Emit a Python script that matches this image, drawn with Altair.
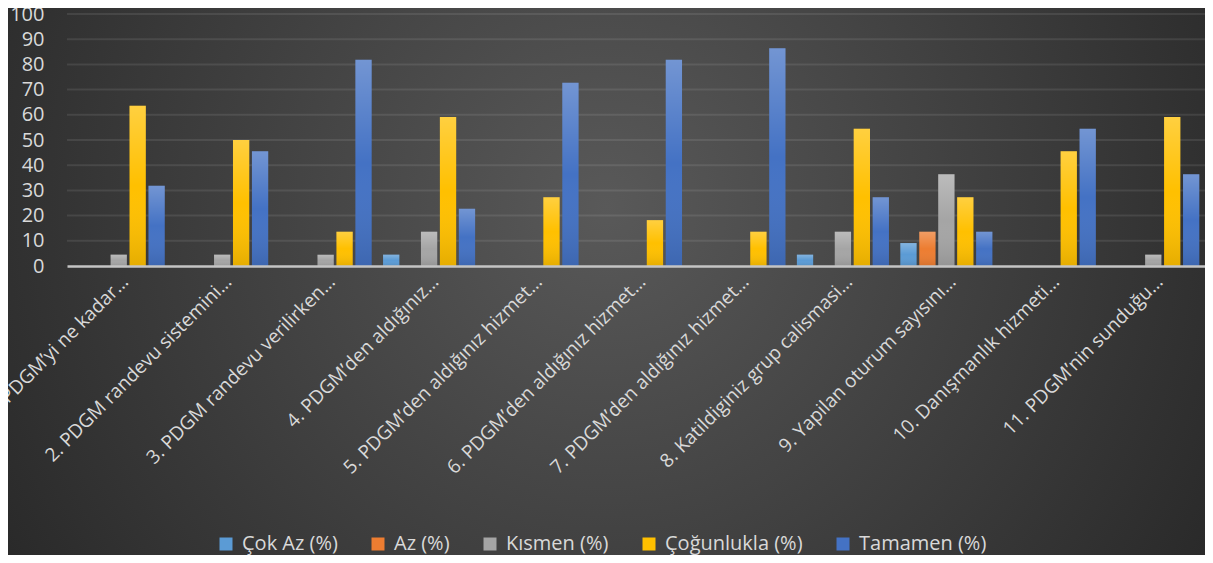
import altair as alt
import pandas as pd

categories = [
    "1. PDGM’yi ne kadar…",
    "2. PDGM randevu sistemini…",
    "3. PDGM randevu verilirken…",
    "4. PDGM’den aldığınız…",
    "5. PDGM’den aldığınız hizmet…",
    "6. PDGM’den aldığınız hizmet…",
    "7. PDGM’den aldığınız hizmet…",
    "8. Katildiginiz grup calismasi…",
    "9. Yapilan oturum sayısını…",
    "10. Danışmanlık hizmeti…",
    "11. PDGM’nin sunduğu…",
]
series = ["Çok Az (%)", "Az (%)", "Kısmen (%)", "Çoğunlukla (%)", "Tamamen (%)"]
cok_az = [0, 0, 0, 4.5, 0, 0, 0, 4.5, 9.1, 0, 0]
az = [0, 0, 0, 0, 0, 0, 0, 0, 13.6, 0, 0]
kismen = [4.5, 4.5, 4.5, 13.6, 0, 0, 0, 13.6, 36.4, 0, 4.5]
cogunlukla = [63.6, 50.0, 13.6, 59.1, 27.3, 18.2, 13.6, 54.5, 27.3, 45.5, 59.1]
tamamen = [31.8, 45.5, 81.8, 22.7, 72.7, 81.8, 86.4, 27.3, 13.6, 54.5, 36.4]
colors = ["#5B9BD5", "#ED7D31", "#A5A5A5", "#FFC000", "#4472C4"]
grid_ticks = [10, 20, 30, 40, 50, 60, 70, 80, 90, 100]

rows = []
for i, c in enumerate(categories):
    for s, vals in zip(series, [cok_az, az, kismen, cogunlukla, tamamen]):
        rows.append({"q": c, "s": s, "v": vals[i]})
df = pd.DataFrame(rows)
grid_df = pd.DataFrame({"t": grid_ticks})

W, H = 1138, 252
FONT = "Open Sans"
TXT = "#d9d9d9"

y_axis = alt.Axis(values=[0, 10, 20, 30, 40, 50, 60, 70, 80, 90, 100], grid=False,
                  ticks=False, domain=False, labelFontSize=20, labelColor=TXT,
                  labelFont=FONT, labelPadding=23, title=None, zindex=1)
y_scale = alt.Scale(domain=[0, 100], nice=False)

bg = alt.Chart(alt.Data(values=[{"a": 1}])).mark_rect(
    color={"gradient": "radial", "x1": 0.5, "y1": 0.44, "x2": 0.5, "y2": 0.44,
           "r1": 0, "r2": 0.6,
           "stops": [{"offset": 0, "color": "#595959"},
                     {"offset": 1, "color": "#262626"}]}
).encode(x=alt.value(-59), x2=alt.value(W), y=alt.value(-356), y2=alt.value(H + 289 + 350))

grid = alt.Chart(grid_df).mark_rule(color="#ffffff", opacity=0.09, strokeWidth=2).encode(
    y=alt.Y("t:Q", scale=y_scale, axis=y_axis)
)

x_enc = alt.X("q:N", sort=categories, title=None,
              scale=alt.Scale(paddingInner=0.11, paddingOuter=0.055),
              axis=alt.Axis(labelAngle=-45, labelAlign="right", labelBaseline="top",
                            labelFontSize=19, labelFont=FONT, labelColor=TXT,
                            labelLimit=500, labelPadding=6, ticks=False,
                            domainColor="#c4c4c4", domainWidth=2.5, zindex=1))
xo_enc = alt.XOffset("s:N", sort=series, scale=alt.Scale(paddingInner=0.14))

bars = alt.Chart(df).mark_bar().encode(
    x=x_enc,
    xOffset=xo_enc,
    y=alt.Y("v:Q", scale=y_scale, axis=y_axis),
    color=alt.Color("s:N", sort=series,
                    scale=alt.Scale(domain=series, range=colors),
                    legend=alt.Legend(orient="none", legendX=149, legendY=520,
                                      direction="horizontal", title=None,
                                      symbolType="square", symbolSize=169,
                                      symbolStrokeWidth=0, labelFontSize=20,
                                      labelFont=FONT, labelColor=TXT,
                                      columnPadding=30, labelOffset=6, padding=0)),
)

overlay = alt.Chart(df).mark_bar(
    color={"gradient": "linear", "x1": 0, "y1": 0, "x2": 0, "y2": 1,
           "stops": [{"offset": 0, "color": "rgba(255,255,255,0.25)"},
                     {"offset": 0.5, "color": "rgba(255,255,255,0)"},
                     {"offset": 1, "color": "rgba(0,0,0,0.1)"}]}
).encode(
    x=x_enc,
    xOffset=xo_enc,
    y=alt.Y("v:Q", scale=y_scale, axis=y_axis),
)

chart = alt.layer(bg, grid, bars, overlay).properties(
    width=W, height=H,
    autosize=alt.AutoSizeParams(type="none"),
    padding={"left": 59, "top": 6, "right": 0, "bottom": 289},
    background="#3a3a3a",
).configure_view(stroke=None)

chart.save("out.html", embed_options={"renderer": "svg", "actions": False})
